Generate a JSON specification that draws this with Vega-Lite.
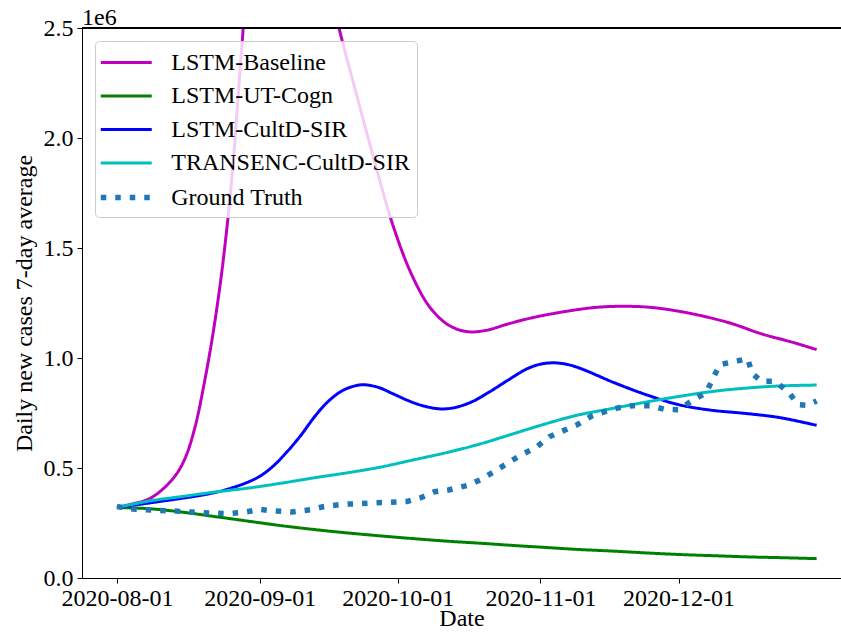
{
  "$schema": "https://vega.github.io/schema/vega-lite/v6.json",
  "width": 759,
  "height": 550,
  "autosize": {"type": "none"},
  "padding": {"left": 82, "top": 28, "right": 0, "bottom": 63},
  "background": "white",
  "config": {
    "view": {"stroke": null},
    "font": "Liberation Serif",
    "axis": {
      "grid": false,
      "domainColor": "black",
      "domainWidth": 1,
      "tickColor": "black",
      "tickWidth": 1,
      "tickSize": 5,
      "labelFont": "Liberation Serif",
      "labelFontSize": 24,
      "labelColor": "black",
      "titleFont": "Liberation Serif",
      "titleFontSize": 24,
      "titleFontWeight": "normal",
      "titleColor": "black"
    },
    "legend": {
      "symbolType": "M-2,0H2",
      "symbolSize": 650,
      "symbolOffset": 8.75,
      "labelFont": "Liberation Serif",
      "labelFontSize": 24,
      "labelColor": "black",
      "labelLimit": 400,
      "labelOffset": 29.5,
      "rowPadding": 6.5,
      "padding": 7,
      "strokeColor": "#cccccc",
      "fillColor": "rgba(255,255,255,0.8)",
      "cornerRadius": 4
    }
  },
  "title": {
    "text": "1e6",
    "anchor": "start",
    "frame": "group",
    "font": "Liberation Serif",
    "fontSize": 24,
    "fontWeight": "normal",
    "color": "black",
    "offset": 3,
    "dy": 17
  },
  "data": {
    "values": [
      {"date": "2020-08-01", "model": "LSTM-Baseline", "cases": 320000},
      {"date": "2020-08-04", "model": "LSTM-Baseline", "cases": 335000},
      {"date": "2020-08-08", "model": "LSTM-Baseline", "cases": 360000},
      {"date": "2020-08-11", "model": "LSTM-Baseline", "cases": 405000},
      {"date": "2020-08-14", "model": "LSTM-Baseline", "cases": 475000},
      {"date": "2020-08-16", "model": "LSTM-Baseline", "cases": 555000},
      {"date": "2020-08-18", "model": "LSTM-Baseline", "cases": 690000},
      {"date": "2020-08-20", "model": "LSTM-Baseline", "cases": 890000},
      {"date": "2020-08-22", "model": "LSTM-Baseline", "cases": 1130000},
      {"date": "2020-08-24", "model": "LSTM-Baseline", "cases": 1430000},
      {"date": "2020-08-26", "model": "LSTM-Baseline", "cases": 1830000},
      {"date": "2020-08-28", "model": "LSTM-Baseline", "cases": 2380000},
      {"date": "2020-08-30", "model": "LSTM-Baseline", "cases": 2900000},
      {"date": "2020-09-02", "model": "LSTM-Baseline", "cases": 3300000},
      {"date": "2020-09-06", "model": "LSTM-Baseline", "cases": 3420000},
      {"date": "2020-09-10", "model": "LSTM-Baseline", "cases": 3250000},
      {"date": "2020-09-14", "model": "LSTM-Baseline", "cases": 2900000},
      {"date": "2020-09-18", "model": "LSTM-Baseline", "cases": 2520000},
      {"date": "2020-09-22", "model": "LSTM-Baseline", "cases": 2200000},
      {"date": "2020-09-26", "model": "LSTM-Baseline", "cases": 1890000},
      {"date": "2020-09-30", "model": "LSTM-Baseline", "cases": 1600000},
      {"date": "2020-10-04", "model": "LSTM-Baseline", "cases": 1380000},
      {"date": "2020-10-08", "model": "LSTM-Baseline", "cases": 1230000},
      {"date": "2020-10-12", "model": "LSTM-Baseline", "cases": 1150000},
      {"date": "2020-10-16", "model": "LSTM-Baseline", "cases": 1120000},
      {"date": "2020-10-20", "model": "LSTM-Baseline", "cases": 1125000},
      {"date": "2020-10-25", "model": "LSTM-Baseline", "cases": 1155000},
      {"date": "2020-10-30", "model": "LSTM-Baseline", "cases": 1182000},
      {"date": "2020-11-06", "model": "LSTM-Baseline", "cases": 1210000},
      {"date": "2020-11-13", "model": "LSTM-Baseline", "cases": 1230000},
      {"date": "2020-11-19", "model": "LSTM-Baseline", "cases": 1235000},
      {"date": "2020-11-25", "model": "LSTM-Baseline", "cases": 1230000},
      {"date": "2020-12-03", "model": "LSTM-Baseline", "cases": 1205000},
      {"date": "2020-12-12", "model": "LSTM-Baseline", "cases": 1160000},
      {"date": "2020-12-19", "model": "LSTM-Baseline", "cases": 1110000},
      {"date": "2020-12-26", "model": "LSTM-Baseline", "cases": 1070000},
      {"date": "2020-12-31", "model": "LSTM-Baseline", "cases": 1038000},

      {"date": "2020-08-01", "model": "LSTM-UT-Cogn", "cases": 320000},
      {"date": "2020-08-08", "model": "LSTM-UT-Cogn", "cases": 315000},
      {"date": "2020-08-15", "model": "LSTM-UT-Cogn", "cases": 300000},
      {"date": "2020-08-22", "model": "LSTM-UT-Cogn", "cases": 280000},
      {"date": "2020-08-30", "model": "LSTM-UT-Cogn", "cases": 257000},
      {"date": "2020-09-06", "model": "LSTM-UT-Cogn", "cases": 237000},
      {"date": "2020-09-13", "model": "LSTM-UT-Cogn", "cases": 220000},
      {"date": "2020-09-20", "model": "LSTM-UT-Cogn", "cases": 205000},
      {"date": "2020-09-28", "model": "LSTM-UT-Cogn", "cases": 190000},
      {"date": "2020-10-05", "model": "LSTM-UT-Cogn", "cases": 178000},
      {"date": "2020-10-12", "model": "LSTM-UT-Cogn", "cases": 167000},
      {"date": "2020-10-19", "model": "LSTM-UT-Cogn", "cases": 158000},
      {"date": "2020-10-26", "model": "LSTM-UT-Cogn", "cases": 148000},
      {"date": "2020-11-02", "model": "LSTM-UT-Cogn", "cases": 139000},
      {"date": "2020-11-09", "model": "LSTM-UT-Cogn", "cases": 130000},
      {"date": "2020-11-17", "model": "LSTM-UT-Cogn", "cases": 122000},
      {"date": "2020-11-24", "model": "LSTM-UT-Cogn", "cases": 114000},
      {"date": "2020-12-01", "model": "LSTM-UT-Cogn", "cases": 107000},
      {"date": "2020-12-09", "model": "LSTM-UT-Cogn", "cases": 101000},
      {"date": "2020-12-16", "model": "LSTM-UT-Cogn", "cases": 96000},
      {"date": "2020-12-24", "model": "LSTM-UT-Cogn", "cases": 92000},
      {"date": "2020-12-31", "model": "LSTM-UT-Cogn", "cases": 88000},

      {"date": "2020-08-01", "model": "LSTM-CultD-SIR", "cases": 320000},
      {"date": "2020-08-06", "model": "LSTM-CultD-SIR", "cases": 335000},
      {"date": "2020-08-11", "model": "LSTM-CultD-SIR", "cases": 350000},
      {"date": "2020-08-15", "model": "LSTM-CultD-SIR", "cases": 362000},
      {"date": "2020-08-19", "model": "LSTM-CultD-SIR", "cases": 375000},
      {"date": "2020-08-23", "model": "LSTM-CultD-SIR", "cases": 392000},
      {"date": "2020-08-26", "model": "LSTM-CultD-SIR", "cases": 410000},
      {"date": "2020-08-29", "model": "LSTM-CultD-SIR", "cases": 432000},
      {"date": "2020-09-01", "model": "LSTM-CultD-SIR", "cases": 462000},
      {"date": "2020-09-04", "model": "LSTM-CultD-SIR", "cases": 510000},
      {"date": "2020-09-07", "model": "LSTM-CultD-SIR", "cases": 575000},
      {"date": "2020-09-10", "model": "LSTM-CultD-SIR", "cases": 650000},
      {"date": "2020-09-13", "model": "LSTM-CultD-SIR", "cases": 735000},
      {"date": "2020-09-16", "model": "LSTM-CultD-SIR", "cases": 805000},
      {"date": "2020-09-19", "model": "LSTM-CultD-SIR", "cases": 852000},
      {"date": "2020-09-22", "model": "LSTM-CultD-SIR", "cases": 875000},
      {"date": "2020-09-24", "model": "LSTM-CultD-SIR", "cases": 878000},
      {"date": "2020-09-27", "model": "LSTM-CultD-SIR", "cases": 865000},
      {"date": "2020-09-30", "model": "LSTM-CultD-SIR", "cases": 837000},
      {"date": "2020-10-04", "model": "LSTM-CultD-SIR", "cases": 800000},
      {"date": "2020-10-07", "model": "LSTM-CultD-SIR", "cases": 780000},
      {"date": "2020-10-10", "model": "LSTM-CultD-SIR", "cases": 769000},
      {"date": "2020-10-13", "model": "LSTM-CultD-SIR", "cases": 773000},
      {"date": "2020-10-17", "model": "LSTM-CultD-SIR", "cases": 800000},
      {"date": "2020-10-21", "model": "LSTM-CultD-SIR", "cases": 847000},
      {"date": "2020-10-25", "model": "LSTM-CultD-SIR", "cases": 900000},
      {"date": "2020-10-29", "model": "LSTM-CultD-SIR", "cases": 950000},
      {"date": "2020-11-01", "model": "LSTM-CultD-SIR", "cases": 972000},
      {"date": "2020-11-04", "model": "LSTM-CultD-SIR", "cases": 978000},
      {"date": "2020-11-07", "model": "LSTM-CultD-SIR", "cases": 970000},
      {"date": "2020-11-10", "model": "LSTM-CultD-SIR", "cases": 950000},
      {"date": "2020-11-17", "model": "LSTM-CultD-SIR", "cases": 888000},
      {"date": "2020-11-24", "model": "LSTM-CultD-SIR", "cases": 833000},
      {"date": "2020-12-01", "model": "LSTM-CultD-SIR", "cases": 788000},
      {"date": "2020-12-08", "model": "LSTM-CultD-SIR", "cases": 763000},
      {"date": "2020-12-16", "model": "LSTM-CultD-SIR", "cases": 747000},
      {"date": "2020-12-23", "model": "LSTM-CultD-SIR", "cases": 729000},
      {"date": "2020-12-31", "model": "LSTM-CultD-SIR", "cases": 694000},

      {"date": "2020-08-01", "model": "TRANSENC-CultD-SIR", "cases": 320000},
      {"date": "2020-08-08", "model": "TRANSENC-CultD-SIR", "cases": 350000},
      {"date": "2020-08-15", "model": "TRANSENC-CultD-SIR", "cases": 370000},
      {"date": "2020-08-22", "model": "TRANSENC-CultD-SIR", "cases": 390000},
      {"date": "2020-08-30", "model": "TRANSENC-CultD-SIR", "cases": 410000},
      {"date": "2020-09-06", "model": "TRANSENC-CultD-SIR", "cases": 432000},
      {"date": "2020-09-13", "model": "TRANSENC-CultD-SIR", "cases": 456000},
      {"date": "2020-09-20", "model": "TRANSENC-CultD-SIR", "cases": 478000},
      {"date": "2020-09-27", "model": "TRANSENC-CultD-SIR", "cases": 503000},
      {"date": "2020-10-04", "model": "TRANSENC-CultD-SIR", "cases": 535000},
      {"date": "2020-10-12", "model": "TRANSENC-CultD-SIR", "cases": 572000},
      {"date": "2020-10-19", "model": "TRANSENC-CultD-SIR", "cases": 610000},
      {"date": "2020-10-26", "model": "TRANSENC-CultD-SIR", "cases": 655000},
      {"date": "2020-11-02", "model": "TRANSENC-CultD-SIR", "cases": 700000},
      {"date": "2020-11-09", "model": "TRANSENC-CultD-SIR", "cases": 740000},
      {"date": "2020-11-17", "model": "TRANSENC-CultD-SIR", "cases": 772000},
      {"date": "2020-11-24", "model": "TRANSENC-CultD-SIR", "cases": 800000},
      {"date": "2020-12-01", "model": "TRANSENC-CultD-SIR", "cases": 825000},
      {"date": "2020-12-08", "model": "TRANSENC-CultD-SIR", "cases": 847000},
      {"date": "2020-12-15", "model": "TRANSENC-CultD-SIR", "cases": 862000},
      {"date": "2020-12-23", "model": "TRANSENC-CultD-SIR", "cases": 873000},
      {"date": "2020-12-31", "model": "TRANSENC-CultD-SIR", "cases": 877000},

      {"date": "2020-08-01", "model": "Ground Truth", "cases": 325000},
      {"date": "2020-08-05", "model": "Ground Truth", "cases": 312000},
      {"date": "2020-08-09", "model": "Ground Truth", "cases": 308000},
      {"date": "2020-08-13", "model": "Ground Truth", "cases": 305000},
      {"date": "2020-08-17", "model": "Ground Truth", "cases": 300000},
      {"date": "2020-08-21", "model": "Ground Truth", "cases": 296000},
      {"date": "2020-08-25", "model": "Ground Truth", "cases": 292000},
      {"date": "2020-08-29", "model": "Ground Truth", "cases": 300000},
      {"date": "2020-09-01", "model": "Ground Truth", "cases": 312000},
      {"date": "2020-09-04", "model": "Ground Truth", "cases": 305000},
      {"date": "2020-09-08", "model": "Ground Truth", "cases": 300000},
      {"date": "2020-09-12", "model": "Ground Truth", "cases": 310000},
      {"date": "2020-09-15", "model": "Ground Truth", "cases": 325000},
      {"date": "2020-09-19", "model": "Ground Truth", "cases": 335000},
      {"date": "2020-09-23", "model": "Ground Truth", "cases": 338000},
      {"date": "2020-09-26", "model": "Ground Truth", "cases": 342000},
      {"date": "2020-09-29", "model": "Ground Truth", "cases": 344000},
      {"date": "2020-10-03", "model": "Ground Truth", "cases": 348000},
      {"date": "2020-10-06", "model": "Ground Truth", "cases": 365000},
      {"date": "2020-10-09", "model": "Ground Truth", "cases": 392000},
      {"date": "2020-10-12", "model": "Ground Truth", "cases": 400000},
      {"date": "2020-10-16", "model": "Ground Truth", "cases": 420000},
      {"date": "2020-10-19", "model": "Ground Truth", "cases": 447000},
      {"date": "2020-10-22", "model": "Ground Truth", "cases": 484000},
      {"date": "2020-10-25", "model": "Ground Truth", "cases": 524000},
      {"date": "2020-10-28", "model": "Ground Truth", "cases": 561000},
      {"date": "2020-10-31", "model": "Ground Truth", "cases": 593000},
      {"date": "2020-11-03", "model": "Ground Truth", "cases": 643000},
      {"date": "2020-11-06", "model": "Ground Truth", "cases": 670000},
      {"date": "2020-11-09", "model": "Ground Truth", "cases": 697000},
      {"date": "2020-11-12", "model": "Ground Truth", "cases": 735000},
      {"date": "2020-11-15", "model": "Ground Truth", "cases": 756000},
      {"date": "2020-11-18", "model": "Ground Truth", "cases": 774000},
      {"date": "2020-11-21", "model": "Ground Truth", "cases": 783000},
      {"date": "2020-11-25", "model": "Ground Truth", "cases": 783000},
      {"date": "2020-11-28", "model": "Ground Truth", "cases": 766000},
      {"date": "2020-12-01", "model": "Ground Truth", "cases": 765000},
      {"date": "2020-12-04", "model": "Ground Truth", "cases": 807000},
      {"date": "2020-12-07", "model": "Ground Truth", "cases": 842000},
      {"date": "2020-12-09", "model": "Ground Truth", "cases": 930000},
      {"date": "2020-12-10", "model": "Ground Truth", "cases": 970000},
      {"date": "2020-12-13", "model": "Ground Truth", "cases": 983000},
      {"date": "2020-12-16", "model": "Ground Truth", "cases": 997000},
      {"date": "2020-12-17", "model": "Ground Truth", "cases": 930000},
      {"date": "2020-12-19", "model": "Ground Truth", "cases": 894000},
      {"date": "2020-12-22", "model": "Ground Truth", "cases": 894000},
      {"date": "2020-12-25", "model": "Ground Truth", "cases": 842000},
      {"date": "2020-12-27", "model": "Ground Truth", "cases": 788000},
      {"date": "2020-12-29", "model": "Ground Truth", "cases": 785000},
      {"date": "2020-12-31", "model": "Ground Truth", "cases": 805000}
    ]
  },
  "encoding": {
    "x": {
      "field": "date",
      "type": "temporal",
      "title": "Date",
      "scale": {
        "type": "utc",
        "domain": [
          {"year": 2020, "month": 7, "date": 24, "hours": 9, "minutes": 36, "utc": true},
          {"year": 2021, "month": 1, "date": 5, "hours": 7, "utc": true}
        ],
        "nice": false
      },
      "axis": {
        "values": [
          {"year": 2020, "month": 8, "date": 1, "utc": true},
          {"year": 2020, "month": 9, "date": 1, "utc": true},
          {"year": 2020, "month": 10, "date": 1, "utc": true},
          {"year": 2020, "month": 11, "date": 1, "utc": true},
          {"year": 2020, "month": 12, "date": 1, "utc": true}
        ],
        "format": "%Y-%m-%d",
        "labelPadding": 3,
        "titlePadding": -4
      }
    },
    "y": {
      "field": "cases",
      "type": "quantitative",
      "title": "Daily new cases 7-day average",
      "scale": {"domain": [0, 2500000], "nice": false},
      "axis": {
        "values": [0, 500000, 1000000, 1500000, 2000000, 2500000],
        "labelExpr": "format(datum.value / 1000000, '.1f')",
        "labelPadding": 4,
        "titleFontSize": 24,
        "titlePadding": 7
      }
    },
    "color": {
      "field": "model",
      "type": "nominal",
      "scale": {
        "domain": ["LSTM-Baseline", "LSTM-UT-Cogn", "LSTM-CultD-SIR", "TRANSENC-CultD-SIR", "Ground Truth"],
        "range": ["#bf00bf", "#008000", "#0000ff", "#00bfbf", "#1f77b4"]
      },
      "legend": {"title": null, "orient": "none", "legendX": 13, "legendY": 13}
    },
    "strokeDash": {
      "field": "model",
      "type": "nominal",
      "scale": {
        "domain": ["LSTM-Baseline", "LSTM-UT-Cogn", "LSTM-CultD-SIR", "TRANSENC-CultD-SIR", "Ground Truth"],
        "range": [[1, 0], [1, 0], [1, 0], [1, 0], [5.5, 9]]
      },
      "legend": {"title": null, "orient": "none", "legendX": 13, "legendY": 13}
    },
    "strokeWidth": {
      "field": "model",
      "type": "nominal",
      "scale": {
        "type": "ordinal",
        "domain": ["LSTM-Baseline", "LSTM-UT-Cogn", "LSTM-CultD-SIR", "TRANSENC-CultD-SIR", "Ground Truth"],
        "range": [3, 3, 3, 3, 5.5]
      },
      "legend": {"title": null, "orient": "none", "legendX": 13, "legendY": 13}
    }
  },
  "layer": [
    {
      "transform": [{"filter": "datum.model != 'Ground Truth'"}],
      "mark": {"type": "line", "interpolate": "catmull-rom", "clip": true, "strokeCap": "butt"}
    },
    {
      "transform": [{"filter": "datum.model == 'Ground Truth'"}],
      "mark": {"type": "line", "interpolate": "linear", "clip": true, "strokeCap": "butt"}
    },
    {
      "mark": {"type": "rule", "color": "black", "strokeWidth": 1},
      "encoding": {
        "y": {"datum": 2500000},
        "x": null,
        "color": null,
        "strokeDash": null,
        "strokeWidth": null
      }
    }
  ]
}
